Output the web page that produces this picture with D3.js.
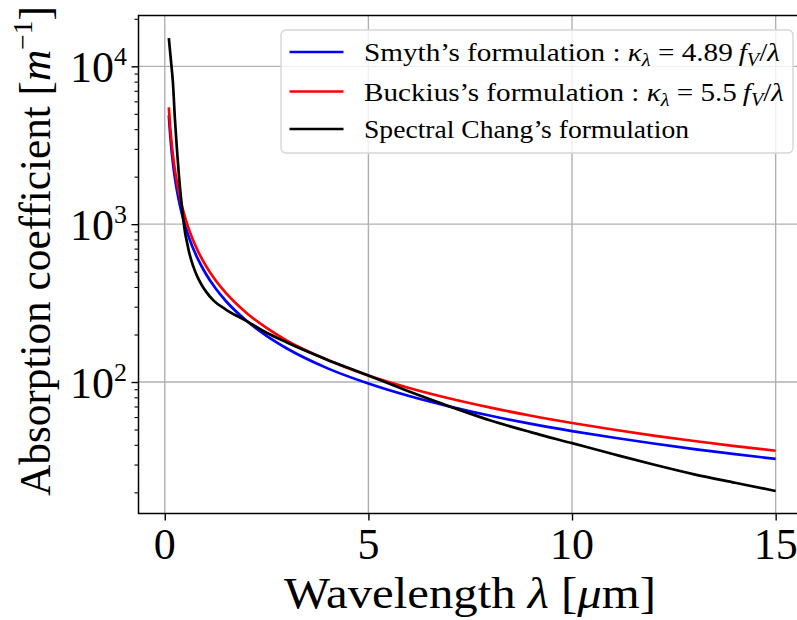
<!DOCTYPE html>
<html>
<head>
<meta charset="utf-8">
<script src="https://d3js.org/d3.v7.min.js"></script>
<style>
  body { margin: 0; background: #fff; }
  svg { display: block; font-family: "Liberation Serif", "DejaVu Serif", serif; }
  .grid line { stroke: #b0b0b0; stroke-width: 1.4; }
</style>
</head>
<body>
<script>
// values
const lambdaAnalytic = [0.1, 0.12, 0.15, 0.2, 0.25, 0.3, 0.4, 0.5, 0.6, 0.8, 1, 1.25, 1.5, 2, 2.5, 3, 4, 5, 6, 7, 8, 9, 10, 11, 12, 13, 14, 15];
const smythValues = [4890, 4075, 3260, 2445, 1956, 1630, 1223, 978, 815, 611, 489, 391, 326, 245, 196, 163, 122, 97.8, 81.5, 69.9, 61.1, 54.3, 48.9, 44.5, 40.8, 37.6, 34.9, 32.6];
const buckiusValues = [5500, 4583, 3667, 2750, 2200, 1833, 1375, 1100, 917, 688, 550, 440, 367, 275, 220, 183, 138, 110, 91.7, 78.6, 68.8, 61.1, 55, 50, 45.8, 42.3, 39.3, 36.7];

const lambdaChang = [0.1, 0.15, 0.2, 0.25, 0.3, 0.35, 0.4, 0.45, 0.5, 0.55, 0.6, 0.7, 0.8, 0.9, 1.0, 1.2, 1.5, 2, 2.5, 3, 3.5, 4, 4.5, 5, 6, 7, 8, 9, 10, 11, 12, 13, 14, 15];
const changValues = [15100, 11000, 7900, 4600, 2950, 2000, 1450, 1100, 880, 760, 660, 540, 465, 415, 378, 328, 288, 244, 205, 178, 156, 138, 123, 110, 87, 70, 57, 48, 41, 35, 30, 26, 23, 20.4];

const xTicks = [0, 5, 10, 15];
const yTickExp = [2, 3, 4];

const W = 797, H = 620;
const plot = {left: 138.5, right: 806, top: 15.5, bottom: 513.5};

const x = d3.scaleLinear().domain([-0.645, 15.745]).range([plot.left, plot.right]);
const y = d3.scaleLog().domain([Math.pow(10, 1.167), Math.pow(10, 4.322)]).range([plot.bottom, plot.top]);

const svg = d3.select('body').append('svg')
  .attr('width', W)
  .attr('height', H);

svg.append('defs').append('clipPath').attr('id', 'clip')
  .append('rect')
  .attr('x', plot.left).attr('y', plot.top)
  .attr('width', plot.right - plot.left).attr('height', plot.bottom - plot.top);

// grid
const grid = svg.append('g').attr('class', 'grid');
grid.selectAll('.gx').data(xTicks).enter().append('line')
  .attr('x1', d => x(d)).attr('x2', d => x(d))
  .attr('y1', plot.top).attr('y2', plot.bottom);
grid.selectAll('.gy').data(yTickExp).enter().append('line')
  .attr('x1', plot.left).attr('x2', plot.right)
  .attr('y1', d => y(Math.pow(10, d))).attr('y2', d => y(Math.pow(10, d)));

// curves
const series = [
  {xs: lambdaAnalytic, ys: smythValues, color: '#0000ff'},
  {xs: lambdaAnalytic, ys: buckiusValues, color: '#ff0000'},
  {xs: lambdaChang, ys: changValues, color: '#000000'}
];
const line = d3.line()
  .x(d => x(d[0]))
  .y(d => y(d[1]))
  .curve(d3.curveMonotoneX);

svg.append('g').attr('clip-path', 'url(#clip)')
  .selectAll('path').data(series).enter().append('path')
  .attr('d', s => line(s.xs.map((v, i) => [v, s.ys[i]])))
  .attr('fill', 'none')
  .attr('stroke', s => s.color)
  .attr('stroke-width', 2.7)
  .attr('stroke-linejoin', 'round');

// axes
const xAxis = d3.axisBottom(x).tickValues(xTicks).tickSize(7).tickFormat('');
svg.append('g')
  .attr('transform', `translate(0,${plot.bottom})`)
  .call(xAxis)
  .call(g => g.select('.domain').remove())
  .call(g => g.selectAll('.tick line').attr('stroke-width', 1.4));

const minorY = [];
for (let e = 1; e <= 4; e++) {
  for (let m = 2; m <= 9; m++) {
    const v = m * Math.pow(10, e);
    if (v > y.domain()[0] && v < y.domain()[1]) minorY.push(v);
  }
}
svg.append('g')
  .attr('transform', `translate(${plot.left},0)`)
  .call(d3.axisLeft(y).tickValues(minorY).tickSize(4).tickFormat(''))
  .call(g => g.select('.domain').remove())
  .call(g => g.selectAll('.tick line').attr('stroke-width', 1.1));
svg.append('g')
  .attr('transform', `translate(${plot.left},0)`)
  .call(d3.axisLeft(y).tickValues(yTickExp.map(e => Math.pow(10, e))).tickSize(7).tickFormat(''))
  .call(g => g.select('.domain').remove())
  .call(g => g.selectAll('.tick line').attr('stroke-width', 1.4));

// frame
svg.append('rect')
  .attr('x', plot.left).attr('y', plot.top)
  .attr('width', plot.right - plot.left).attr('height', plot.bottom - plot.top)
  .attr('fill', 'none').attr('stroke', '#000').attr('stroke-width', 1.5);

// tick labels
svg.selectAll('.xl').data(xTicks).enter().append('text')
  .attr('x', d => x(d)).attr('y', 559)
  .attr('text-anchor', 'middle')
  .attr('font-size', 44)
  .text(d => d);

const yl = svg.selectAll('.yl').data(yTickExp).enter().append('text')
  .attr('x', 127).attr('y', d => y(Math.pow(10, d)) + 16)
  .attr('text-anchor', 'end')
  .attr('font-size', 44);
yl.append('tspan').text('10');
yl.append('tspan').attr('font-size', 26).attr('dy', -17).text(d => d);

// axis titles
const xt = svg.append('text')
  .attr('x', 470).attr('y', 608)
  .attr('text-anchor', 'middle')
  .attr('font-size', 44)
  .attr('textLength', 372).attr('lengthAdjust', 'spacingAndGlyphs');
xt.append('tspan').text('Wavelength ');
xt.append('tspan').attr('font-style', 'italic').text('λ');
xt.append('tspan').text(' [');
xt.append('tspan').attr('font-style', 'italic').text('μ');
xt.append('tspan').text('m]');

const yt = svg.append('text')
  .attr('transform', 'translate(50,251) rotate(-90)')
  .attr('text-anchor', 'middle')
  .attr('font-size', 44)
  .attr('textLength', 490).attr('lengthAdjust', 'spacingAndGlyphs');
yt.append('tspan').text('Absorption coefficient [');
yt.append('tspan').attr('font-style', 'italic').text('m');
yt.append('tspan').attr('font-size', 28).attr('dy', -18).text('−1');
yt.append('tspan').attr('dy', 18).text(']');

// legend
const legend = svg.append('g');
legend.append('rect')
  .attr('x', 281).attr('y', 30)
  .attr('width', 512).attr('height', 123)
  .attr('rx', 5)
  .attr('fill', '#fff').attr('fill-opacity', 0.8)
  .attr('stroke', '#d6d6d6').attr('stroke-width', 1.4);

const legendRows = [52, 91.5, 129];
const legendItems = [
  {color: '#0000ff', name: 'Smyth’s formulation : ', coef: '4.89', len: 416},
  {color: '#ff0000', name: 'Buckius’s formulation : ', coef: '5.5', len: 420},
  {color: '#000000', name: 'Spectral Chang’s formulation', coef: null, len: 325}
];
legendItems.forEach((it, i) => {
  const ry = legendRows[i];
  legend.append('line')
    .attr('x1', 289.5).attr('x2', 343.5)
    .attr('y1', ry).attr('y2', ry)
    .attr('stroke', it.color).attr('stroke-width', 2.7);
  const t = legend.append('text')
    .attr('x', 364).attr('y', ry + 9)
    .attr('font-size', 26)
    .attr('textLength', it.len).attr('lengthAdjust', 'spacingAndGlyphs');
  t.append('tspan').text(it.name);
  if (it.coef) {
    t.append('tspan').attr('font-style', 'italic').text('κ');
    t.append('tspan').attr('font-style', 'italic').attr('font-size', 18).attr('dy', 5).text('λ');
    t.append('tspan').attr('dy', -5).text('\u00a0=\u00a0' + it.coef + '\u2009');
    t.append('tspan').attr('font-style', 'italic').text('f');
    t.append('tspan').attr('font-style', 'italic').attr('font-size', 18).attr('dy', 5).text('V');
    t.append('tspan').attr('dy', -5).text('/');
    t.append('tspan').attr('font-style', 'italic').text('λ');
  }
});
</script>
</body>
</html>
